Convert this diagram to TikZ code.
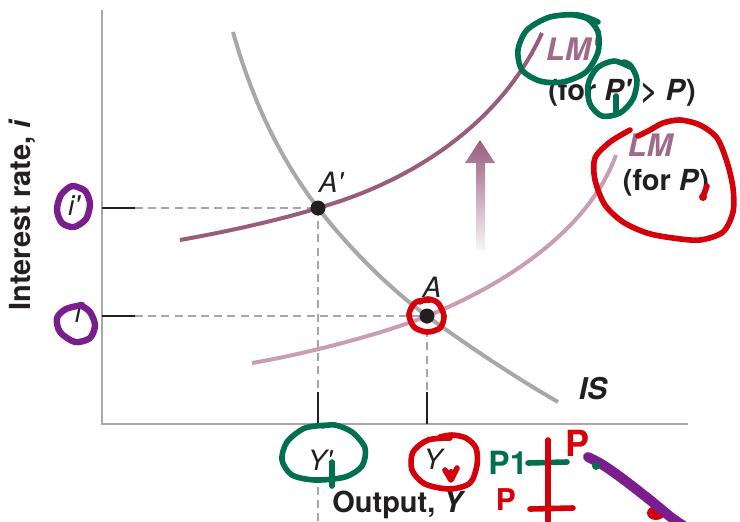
\documentclass[tikz,border=0pt]{standalone}
\usepackage{fontspec}
\setmainfont{TeX Gyre Heros}
\definecolor{isgray}{RGB}{168,168,170}
\definecolor{lmdark}{RGB}{152,92,124}
\definecolor{lmlight}{RGB}{200,158,180}
\definecolor{lmtext}{RGB}{160,106,138}
\definecolor{ink}{RGB}{35,31,32}
\definecolor{pengreen}{RGB}{0,112,80}
\definecolor{penred}{RGB}{212,0,10}
\definecolor{penpurple}{RGB}{122,30,142}
\begin{document}
\begin{tikzpicture}[x=0.5pt, y=-0.5pt, axis/.style={draw=isgray, line width=1pt}, tick/.style={draw=ink, line width=0.8pt}, guide/.style={draw=gray!70, line width=0.7pt, dash pattern=on 4pt off 2.6pt}, curve/.style={line width=2pt}, dot/.style={circle, fill=ink, inner sep=0pt, minimum size=7.5pt}, lbl/.style={inner sep=0pt, text=ink, font=\fontsize{14}{16}\selectfont\itshape}, title/.style={inner sep=0pt, text=ink, font=\fontsize{14.5}{17}\selectfont\bfseries}, lmlbl/.style={inner sep=0pt, text=lmtext, font=\fontsize{15.5}{18}\selectfont\bfseries\itshape}, pen/.style={line width=2.8pt, line cap=round, line join=round}]
		\useasboundingbox (0,0) rectangle (740,521);
		\coordinate (o) at (102,424);
		\coordinate (ytop) at (102,10);
		\coordinate (xend) at (688,424);
		\coordinate (Ap) at (318,208);
		\coordinate (A) at (427,316);
		\coordinate (ip0) at (102,208);
		\coordinate (ip1) at (135,208);
		\coordinate (i0) at (102,316);
		\coordinate (i1) at (135,316);
		\coordinate (yp0) at (318,424);
		\coordinate (yp1) at (318,392);
		\coordinate (y0) at (427,424);
		\coordinate (y1) at (427,392);
		\coordinate (yplow) at (318,487);
		\coordinate (ypbot) at (318,521);

		\draw[axis] (ytop) -- (o) -- (xend);
		\draw[tick] (ip0) -- (ip1);
		\draw[tick] (i0) -- (i1);
		\draw[tick] (yp0) -- (yp1);
		\draw[tick] (y0) -- (y1);
		\draw[guide] (ip1) -- (Ap);
		\draw[guide] (i1) -- (A);
		\draw[guide] (Ap) -- (yp1);
		\draw[guide] (A) -- (y1);
		\draw[guide] (yplow) -- (ypbot);

		\shade[top color=lmdark, bottom color=lmdark!6] (476,250) -- (476,163) -- (465,163) -- (480,140) -- (495,163) -- (485,163) -- (485,250) -- cycle;

		\draw[curve, isgray] (233,32) .. controls (255,110) and (285,165) .. (Ap) .. controls (345,243) and (385,285) .. (A) .. controls (475,351) and (520,380) .. (558,402);
		\draw[curve, lmdark] (180,240) .. controls (225,232) and (280,220) .. (Ap) .. controls (410,182) and (500,125) .. (542,33);
		\draw[curve, lmlight] (252,363) .. controls (300,355) and (380,335) .. (A) .. controls (485,293) and (585,240) .. (616,155);

		\node[dot] (Apdot) at (Ap) {};
		\node[dot] (Adot) at (A) {};

		\node[lbl] (Aplbl) at (331,182) {A\textquotesingle};
		\node[lbl] (Albl) at (432,287) {A};
		\node[lbl] (iplbl) at (74,206) {i\textquotesingle};
		\node[lbl] (ilbl) at (78,313) {i};
		\node[lbl] (Yplbl) at (320,460) {Y\textquotesingle};
		\node[lbl] (Ylbl) at (433,459) {Y};
		\node[title] (xlbl) at (399,505) {Output, \textit{Y}};
		\node[title, rotate=90] (ylbl) at (22,215) {Interest rate, \textit{i}};
		\node[title, font=\fontsize{15}{18}\selectfont\bfseries\itshape] (islbl) at (593,389) {IS};
		\node[lmlbl] (lmplbl) at (572,49) {LM\textquotesingle};
		\node[title] (lmpnote) at (622,93) {(for \textit{P\textquotesingle} > \textit{P})};
		\node[lmlbl] (lmlbl) at (650,145) {LM};
		\node[title] (lmnote) at (666,183) {(for \textit{P})};

		\draw[pen, penpurple, line width=3.2pt] plot[smooth] coordinates {(84,190) (72,186) (61,195) (57,210) (62,223) (74,227) (86,219) (90,204) (86,192) (80,188)};
		\draw[pen, penpurple, line width=3.2pt] plot[smooth] coordinates {(82,305) (66,309) (57,318) (60,332) (75,342) (90,338) (95,325) (90,312) (82,306)};
		\draw[pen, pengreen] plot[smooth] coordinates {(598,22) (578,15) (550,17) (527,30) (518,50) (522,70) (540,81) (563,82) (586,72) (598,52) (598,32) (588,19) (574,15)};
		\draw[pen, pengreen] plot[smooth] coordinates {(630,67) (614,61) (597,68) (588,85) (590,104) (602,116) (620,113) (633,99) (637,80) (631,66) (624,62)};
		\draw[pen, pengreen] (616,96) -- (616,111);
		\draw[pen, penred] plot[smooth] coordinates {(630,130) (610,142) (595,158) (595,180) (605,205) (623,222) (647,233) (673,238) (700,240) (723,232) (733,212) (733,188) (727,162) (717,138) (700,125) (680,120) (663,123) (650,130) (638,136)};
		\fill[penred] (703,197) circle (4);
		\draw[pen, penred] (703,197) -- (707,186);
		\draw[pen, penred] plot[smooth] coordinates {(430,300) (416,302) (409,314) (414,327) (427,332) (440,328) (444,316) (438,303) (428,299) (420,302)};
		\draw[pen, pengreen] plot[smooth] coordinates {(330,425) (305,428) (287,442) (282,460) (292,475) (315,480) (345,477) (362,466) (365,448) (352,432) (335,425) (322,426)};
		\draw[pen, pengreen] (332,462) -- (332,486);
		\draw[pen, penred] plot[smooth] coordinates {(450,438) (428,440) (413,452) (412,470) (425,484) (450,489) (470,483) (477,465) (476,448) (466,438) (452,435) (440,437)};
		\fill[penred] (451,474) ellipse (5 and 5);
		\draw[pen, penred] (445,470) -- (451,480) -- (457,468);

		\node[inner sep=0pt, text=pengreen, font=\fontsize{16}{18}\selectfont\bfseries] (pone) at (508,463) {P1};
		\draw[pen, pengreen] (528,463) -- (567,462);
		\draw[pen, penred] (548,440) -- (548,521);
		\node[inner sep=0pt, text=penred, font=\fontsize{18}{20}\selectfont\bfseries] (ptop) at (578,443) {P};
		\node[inner sep=0pt, text=penred, font=\fontsize{15}{17}\selectfont\bfseries] (pbot) at (506,500) {P};
		\draw[pen, penred] (530,509) -- (573,508);
		\fill[penred] (656,513) ellipse (9 and 7);
		\draw[pen, penpurple, line width=5pt] plot[smooth] coordinates {(588,457) (603,465) (623,479) (650,500) (672,518) (690,530)};
		\fill[pengreen] (596,466) circle (4);
\end{tikzpicture}
\end{document}
